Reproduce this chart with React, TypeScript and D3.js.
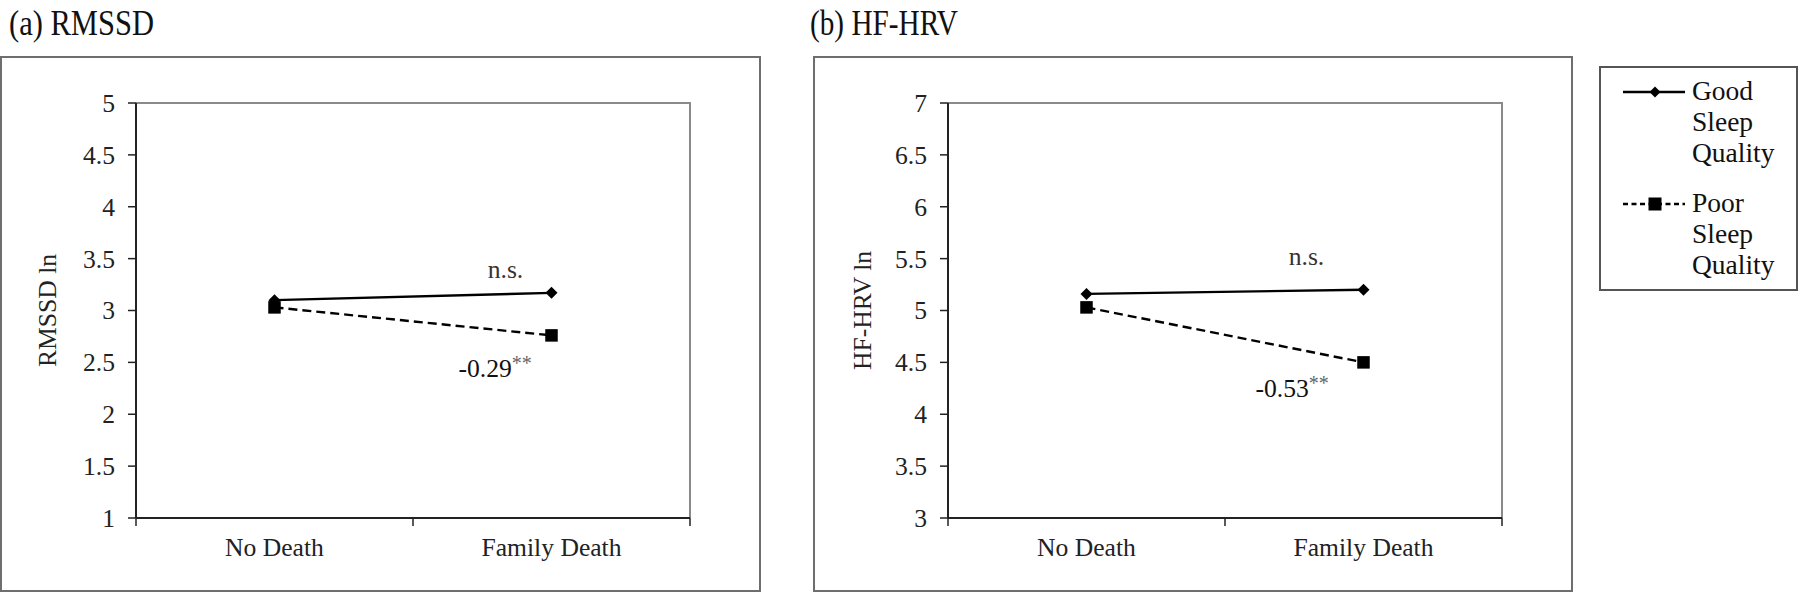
import React from "react";
import * as d3 from "d3";

const categories = ["No Death", "Family Death"];
const seriesNames = ["Good Sleep Quality", "Poor Sleep Quality"];

const rmssdGood = [3.1, 3.17];
const rmssdPoor = [3.03, 2.76];
const rmssdTicks = [1, 1.5, 2, 2.5, 3, 3.5, 4, 4.5, 5];

const hfGood = [5.16, 5.2];
const hfPoor = [5.03, 4.5];
const hfTicks = [3, 3.5, 4, 4.5, 5, 5.5, 6, 6.5, 7];

const FONT = "'Liberation Serif', 'Times New Roman', serif";

type PanelProps = {
  title: string;
  yLabel: string;
  ticks: number[];
  good: number[];
  poor: number[];
  boxX0: number;
  boxX1: number;
  plotX0: number;
  plotX1: number;
  titleX: number;
  titleW: number;
  yLabelX: number;
  ns: { dx: number; y: number };
  diff: { text: string; dx: number; y: number };
};

function Diamond({ x, y, r = 6 }: { x: number; y: number; r?: number }) {
  return (
    <path
      d={`M${x},${y - r}L${x + r},${y}L${x},${y + r}L${x - r},${y}Z`}
      fill="#000"
    />
  );
}

function Square({ x, y, s = 12.5 }: { x: number; y: number; s?: number }) {
  return <rect x={x - s / 2} y={y - s / 2} width={s} height={s} fill="#000" />;
}

function Panel(p: PanelProps) {
  const top = 103;
  const bottom = 518;
  const y = d3
    .scaleLinear()
    .domain([p.ticks[0], p.ticks[p.ticks.length - 1]])
    .range([bottom, top]);
  const xp = d3
    .scalePoint<string>()
    .domain(categories)
    .range([p.plotX0, p.plotX1])
    .padding(0.5);
  const xb = d3
    .scaleBand<string>()
    .domain(categories)
    .range([p.plotX0, p.plotX1]);
  const line = d3
    .line<number>()
    .x((_, i) => xp(categories[i]) as number)
    .y((v) => y(v));
  const xTicks = [p.plotX0, ...categories.map((c) => (xb(c) as number) + xb.bandwidth())];
  const lastX = xp(categories[1]) as number;
  return (
    <g>
      <text
        x={p.titleX}
        y={35}
        fontSize={36}
        fontFamily={FONT}
        textLength={p.titleW}
        lengthAdjust="spacingAndGlyphs"
        fill="#111"
      >
        {p.title}
      </text>
      <rect
        x={p.boxX0}
        y={57}
        width={p.boxX1 - p.boxX0}
        height={591 - 57}
        fill="#fff"
        stroke="#6e6e6e"
        strokeWidth={2}
      />
      <path
        d={`M${p.plotX0},${top}H${p.plotX1}V${bottom}`}
        fill="none"
        stroke="#8a8a8a"
        strokeWidth={2}
      />
      <line x1={p.plotX0} x2={p.plotX0} y1={top} y2={bottom} stroke="#222" strokeWidth={2} />
      {p.ticks.map((t) => (
        <g key={t}>
          <line x1={p.plotX0 - 8} x2={p.plotX0} y1={y(t)} y2={y(t)} stroke="#222" strokeWidth={1.5} />
          <text
            x={p.plotX0 - 21}
            y={y(t)}
            dy="0.35em"
            textAnchor="end"
            fontSize={25.6}
            fontFamily={FONT}
            fill="#222"
          >
            {t}
          </text>
        </g>
      ))}
      <line x1={p.plotX0} x2={p.plotX1} y1={bottom} y2={bottom} stroke="#222" strokeWidth={2} />
      {xTicks.map((t, i) => (
        <line key={i} x1={t} x2={t} y1={bottom} y2={bottom + 8} stroke="#222" strokeWidth={1.5} />
      ))}
      {categories.map((c) => (
        <text
          key={c}
          x={xp(c) as number}
          y={556}
          textAnchor="middle"
          fontSize={25.6}
          fontFamily={FONT}
          fill="#222"
        >
          {c}
        </text>
      ))}
      <text
        transform={`translate(${p.yLabelX},${(top + bottom) / 2}) rotate(-90)`}
        textAnchor="middle"
        dy="0.35em"
        fontSize={25.6}
        fontFamily={FONT}
        fill="#222"
      >
        {p.yLabel}
      </text>
      <path d={line(p.poor) || ""} fill="none" stroke="#000" strokeWidth={2.4} strokeDasharray="9,5" />
      <path d={line(p.good) || ""} fill="none" stroke="#000" strokeWidth={2.4} />
      {p.poor.map((v, i) => (
        <Square key={"s" + i} x={xp(categories[i]) as number} y={y(v)} />
      ))}
      {p.good.map((v, i) => (
        <Diamond key={"d" + i} x={xp(categories[i]) as number} y={y(v)} />
      ))}
      <text
        x={lastX + p.ns.dx}
        y={p.ns.y}
        textAnchor="middle"
        fontSize={25.6}
        fontFamily={FONT}
        fill="#333"
      >
        n.s.
      </text>
      <text x={lastX + p.diff.dx} y={p.diff.y} fontSize={25.6} fontFamily={FONT} fill="#111">
        {p.diff.text}
        <tspan dy={-7} fontSize={20} fill="#666">
          **
        </tspan>
      </text>
    </g>
  );
}

export default function App() {
  const legendX = 1600;
  const legendItems = [
    { name: seriesNames[0], lineY: 92, textY: 100, dashed: false },
    { name: seriesNames[1], lineY: 204, textY: 212, dashed: true },
  ];
  return (
    <div style={{ position: "absolute", left: 0, top: 0 }}>
      <svg width={1800} height={595} style={{ display: "block", background: "#fff" }}>
        <Panel
          title="(a) RMSSD"
          yLabel="RMSSD ln"
          ticks={rmssdTicks}
          good={rmssdGood}
          poor={rmssdPoor}
          boxX0={1}
          boxX1={760}
          plotX0={136}
          plotX1={690}
          titleX={9}
          titleW={145}
          yLabelX={47}
          ns={{ dx: -46, y: 278 }}
          diff={{ text: "-0.29", dx: -93, y: 377 }}
        />
        <Panel
          title="(b) HF-HRV"
          yLabel="HF-HRV ln"
          ticks={hfTicks}
          good={hfGood}
          poor={hfPoor}
          boxX0={814}
          boxX1={1572}
          plotX0={948}
          plotX1={1502}
          titleX={810}
          titleW={148}
          yLabelX={862}
          ns={{ dx: -57, y: 265 }}
          diff={{ text: "-0.53", dx: -108, y: 397 }}
        />
        <rect x={legendX} y={67} width={197} height={223} fill="#fff" stroke="#555" strokeWidth={2} />
        {legendItems.map((it, k) => {
          const words = it.name.split(" ");
          return (
            <g key={k}>
              <line
                x1={1623}
                x2={1685}
                y1={it.lineY}
                y2={it.lineY}
                stroke="#000"
                strokeWidth={2.4}
                strokeDasharray={it.dashed ? "5,3.5" : undefined}
              />
              {it.dashed ? <Square x={1655} y={it.lineY} s={13} /> : <Diamond x={1655} y={it.lineY} r={5.5} />}
              {words.map((w, i) => (
                <text
                  key={w + i}
                  x={1692}
                  y={it.textY + i * 31}
                  fontSize={27.5}
                  fontFamily={FONT}
                  fill="#111"
                >
                  {w}
                </text>
              ))}
            </g>
          );
        })}
      </svg>
    </div>
  );
}
